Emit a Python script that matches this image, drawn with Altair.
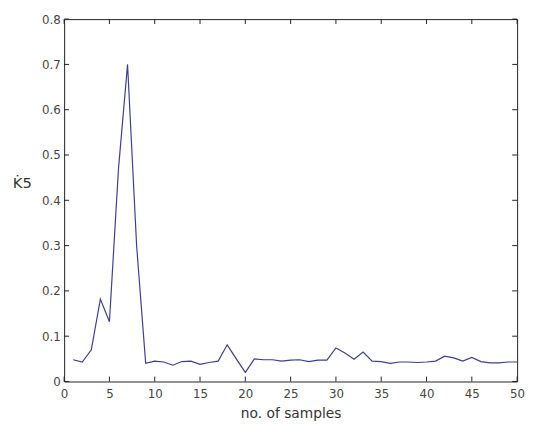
import altair as alt
import pandas as pd

samples = list(range(1, 51))
k5 = [0.048, 0.043, 0.070, 0.182, 0.132, 0.47, 0.70, 0.30, 0.040, 0.045,
      0.043, 0.036, 0.044, 0.045, 0.038, 0.042, 0.045, 0.081, 0.050, 0.020,
      0.050, 0.048, 0.048, 0.045, 0.047, 0.048, 0.044, 0.047, 0.047, 0.074,
      0.063, 0.049, 0.065, 0.045, 0.044, 0.040, 0.043, 0.043, 0.042, 0.043,
      0.045, 0.056, 0.052, 0.045, 0.053, 0.044, 0.041, 0.041, 0.043, 0.043]
x_ticks = [0, 5, 10, 15, 20, 25, 30, 35, 40, 45, 50]
y_ticks = [0, 0.1, 0.2, 0.3, 0.4, 0.5, 0.6, 0.7, 0.8]

W, H = 460, 368
df = pd.DataFrame({"x": samples, "y": k5})
xt = pd.DataFrame({"t": x_ticks})
yt = pd.DataFrame({"t": y_ticks})

xs = alt.Scale(domain=[0, 50], nice=False, zero=False)
ys = alt.Scale(domain=[0, 0.8], nice=False)

font = "DejaVu Sans"

line = alt.Chart(df).mark_line(color="#3d3f8c", strokeWidth=1.2).encode(
    x=alt.X("x:Q", scale=xs, axis=alt.Axis(
        values=x_ticks, title="no. of samples", ticks=False, labelPadding=7,
        labelFont=font, labelFontSize=12, labelColor="#444", grid=False,
        domain=False, titleFont=font, titleFontSize=14, titleFontWeight="normal",
        titleColor="#333", titlePadding=8, labelFlush=False)),
    y=alt.Y("y:Q", scale=ys, axis=alt.Axis(
        values=y_ticks, title="K\u03075", ticks=False, labelPadding=4,
        labelFont=font, labelFontSize=12, labelColor="#444", grid=False,
        domain=False, format=".1~f", titleFont=font, titleFontSize=15,
        titleFontWeight="normal", titleColor="#333", titleAngle=0,
        titleAlign="center", titleBaseline="middle", titleX=-43, titleY=166,
        labelFlush=False)),
)

tick_style = dict(color="#222", strokeWidth=1)
xb = alt.Chart(xt).mark_rule(**tick_style).encode(
    x=alt.X("t:Q", scale=xs), y=alt.value(H), y2=alt.value(H - 5))
xtop = alt.Chart(xt).mark_rule(**tick_style).encode(
    x=alt.X("t:Q", scale=xs), y=alt.value(0), y2=alt.value(5))
yl = alt.Chart(yt).mark_rule(**tick_style).encode(
    y=alt.Y("t:Q", scale=ys), x=alt.value(0), x2=alt.value(5))
yr = alt.Chart(yt).mark_rule(**tick_style).encode(
    y=alt.Y("t:Q", scale=ys), x=alt.value(W - 5), x2=alt.value(W))

chart = alt.layer(line, xb, xtop, yl, yr).properties(
    width=W, height=H,
    autosize=alt.AutoSizeParams(type="none"),
    padding={"left": 57, "top": 8, "right": 8, "bottom": 48},
    background="white",
).configure_view(stroke="#222", strokeWidth=1)

chart.save("out.html", embed_options={"renderer": "svg", "actions": False})
